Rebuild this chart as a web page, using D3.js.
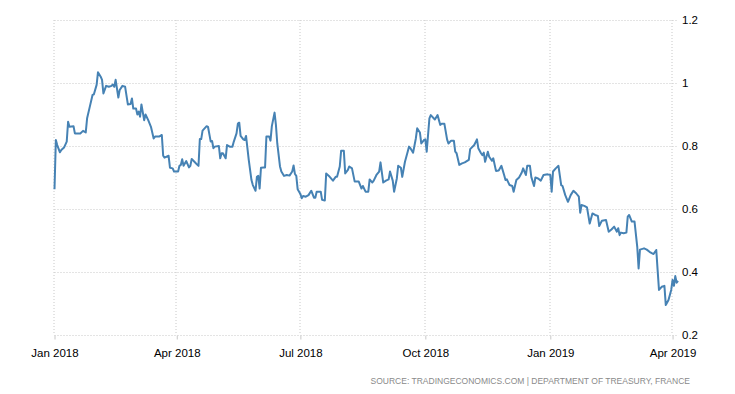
<!DOCTYPE html>
<html>
<head>
<meta charset="utf-8">
<script src="https://cdn.jsdelivr.net/npm/d3@7"></script>
<style>
  body { margin: 0; background: #fff; }
  svg { display: block; font-family: 'Liberation Sans', Arial, sans-serif; }
</style>
</head>
<body>
<svg id="chart" width="735" height="394"></svg>
<script>
// series dates and values (France 5Y bond yield, %)
var dates = [
  '2018-01-01','2018-01-02','2018-01-03','2018-01-05','2018-01-06','2018-01-08','2018-01-10','2018-01-11','2018-01-12','2018-01-15',
  '2018-01-16','2018-01-20','2018-01-22','2018-01-24','2018-01-25','2018-01-27','2018-01-29','2018-01-30','2018-02-01','2018-02-02',
  '2018-02-04','2018-02-05','2018-02-06','2018-02-08','2018-02-10','2018-02-12','2018-02-13','2018-02-14','2018-02-15','2018-02-17',
  '2018-02-18','2018-02-20','2018-02-22','2018-02-24','2018-02-26','2018-02-27','2018-02-28','2018-03-02','2018-03-03','2018-03-04',
  '2018-03-05','2018-03-06','2018-03-08','2018-03-09','2018-03-11','2018-03-13','2018-03-15','2018-03-16','2018-03-19','2018-03-21',
  '2018-03-22','2018-03-23','2018-03-26','2018-03-27','2018-03-29','2018-03-30','2018-04-02','2018-04-03','2018-04-04','2018-04-05',
  '2018-04-06','2018-04-08','2018-04-10','2018-04-11','2018-04-12','2018-04-14','2018-04-16','2018-04-17','2018-04-18','2018-04-19',
  '2018-04-20','2018-04-23','2018-04-24','2018-04-26','2018-04-27','2018-04-28','2018-04-29','2018-05-02','2018-05-03','2018-05-04',
  '2018-05-05','2018-05-07','2018-05-08','2018-05-10','2018-05-12','2018-05-13','2018-05-15','2018-05-16','2018-05-17','2018-05-18',
  '2018-05-20','2018-05-21','2018-05-22','2018-05-24','2018-05-26','2018-05-27','2018-05-29','2018-05-30','2018-05-31','2018-06-01',
  '2018-06-02','2018-06-04','2018-06-05','2018-06-06','2018-06-08','2018-06-09','2018-06-10','2018-06-12','2018-06-13','2018-06-14',
  '2018-06-16','2018-06-17','2018-06-19','2018-06-21','2018-06-23','2018-06-25','2018-06-26','2018-06-27','2018-06-28','2018-06-29',
  '2018-07-01','2018-07-02','2018-07-03','2018-07-05','2018-07-07','2018-07-09','2018-07-11','2018-07-12','2018-07-13','2018-07-16',
  '2018-07-17','2018-07-19','2018-07-20','2018-07-22','2018-07-25','2018-07-27','2018-07-28','2018-07-30','2018-07-31','2018-08-02',
  '2018-08-03','2018-08-05','2018-08-06','2018-08-08','2018-08-10','2018-08-13','2018-08-15','2018-08-16','2018-08-18','2018-08-20',
  '2018-08-21','2018-08-23','2018-08-24','2018-08-26','2018-08-28','2018-08-29','2018-08-31','2018-09-02','2018-09-04','2018-09-05',
  '2018-09-07','2018-09-08','2018-09-10','2018-09-11','2018-09-13','2018-09-14','2018-09-16','2018-09-18','2018-09-19','2018-09-20',
  '2018-09-22','2018-09-24','2018-09-25','2018-09-27','2018-09-28','2018-09-30','2018-10-01','2018-10-02','2018-10-04','2018-10-05',
  '2018-10-08','2018-10-10','2018-10-12','2018-10-13','2018-10-15','2018-10-17','2018-10-18','2018-10-20','2018-10-22','2018-10-23',
  '2018-10-24','2018-10-26','2018-10-28','2018-10-30','2018-11-02','2018-11-03','2018-11-06','2018-11-08','2018-11-09','2018-11-11',
  '2018-11-12','2018-11-13','2018-11-14','2018-11-16','2018-11-17','2018-11-19','2018-11-20','2018-11-22','2018-11-24','2018-11-26',
  '2018-11-28','2018-11-29','2018-11-30','2018-12-02','2018-12-04','2018-12-05','2018-12-07','2018-12-09','2018-12-11','2018-12-12',
  '2018-12-14','2018-12-15','2018-12-17','2018-12-18','2018-12-20','2018-12-21','2018-12-23','2018-12-25','2018-12-27','2018-12-30',
  '2019-01-01','2019-01-02','2019-01-03','2019-01-05','2019-01-07','2019-01-09','2019-01-10','2019-01-12','2019-01-14','2019-01-16',
  '2019-01-18','2019-01-20','2019-01-22','2019-01-23','2019-01-24','2019-01-26','2019-01-28','2019-01-30','2019-02-01','2019-02-03',
  '2019-02-05','2019-02-06','2019-02-08','2019-02-11','2019-02-13','2019-02-15','2019-02-17','2019-02-19','2019-02-20','2019-02-21',
  '2019-02-22','2019-02-24','2019-02-26','2019-02-27','2019-02-28','2019-03-02','2019-03-04','2019-03-06','2019-03-07','2019-03-08',
  '2019-03-11','2019-03-13','2019-03-15','2019-03-17','2019-03-18','2019-03-20','2019-03-21','2019-03-22','2019-03-24','2019-03-26',
  '2019-03-27','2019-03-29','2019-03-31','2019-04-01','2019-04-02','2019-04-03','2019-04-04','2019-04-05'
]
var values = [
  0.663,0.819,0.803,0.780,0.787,0.795,0.814,0.877,0.861,0.863,
  0.840,0.840,0.848,0.843,0.888,0.925,0.962,0.964,0.994,1.034,
  1.020,1.010,0.967,0.991,0.988,0.991,0.995,0.988,1.010,0.954,
  0.978,0.991,0.988,0.932,0.933,0.951,0.919,0.919,0.900,0.909,
  0.893,0.932,0.882,0.900,0.882,0.861,0.824,0.830,0.830,0.835,
  0.769,0.763,0.769,0.731,0.729,0.719,0.719,0.737,0.740,0.758,
  0.737,0.752,0.732,0.737,0.759,0.750,0.741,0.737,0.822,0.822,
  0.849,0.863,0.861,0.814,0.816,0.793,0.798,0.800,0.761,0.777,
  0.777,0.761,0.803,0.798,0.798,0.814,0.840,0.871,0.874,0.832,
  0.821,0.819,0.832,0.756,0.692,0.676,0.658,0.702,0.705,0.665,
  0.731,0.732,0.732,0.830,0.830,0.817,0.863,0.906,0.867,0.808,
  0.735,0.719,0.705,0.708,0.706,0.719,0.738,0.711,0.705,0.663,
  0.648,0.634,0.641,0.639,0.644,0.658,0.636,0.636,0.655,0.655,
  0.629,0.627,0.713,0.705,0.690,0.702,0.702,0.735,0.785,0.785,
  0.713,0.724,0.735,0.729,0.687,0.687,0.665,0.673,0.655,0.655,
  0.694,0.684,0.690,0.708,0.719,0.748,0.684,0.690,0.694,0.719,
  0.690,0.655,0.697,0.737,0.731,0.702,0.750,0.782,0.798,0.793,
  0.779,0.824,0.856,0.843,0.808,0.819,0.821,0.782,0.888,0.898,
  0.884,0.898,0.867,0.871,0.871,0.821,0.808,0.817,0.817,0.782,
  0.777,0.740,0.745,0.748,0.756,0.790,0.803,0.821,0.793,0.777,
  0.771,0.779,0.750,0.782,0.766,0.753,0.761,0.721,0.722,0.737,
  0.708,0.692,0.694,0.676,0.673,0.655,0.692,0.700,0.716,0.729,
  0.708,0.737,0.737,0.702,0.673,0.700,0.697,0.690,0.708,0.710,
  0.708,0.655,0.719,0.729,0.737,0.676,0.673,0.644,0.623,0.644,
  0.658,0.650,0.639,0.588,0.613,0.610,0.605,0.554,0.586,0.581,
  0.578,0.546,0.563,0.565,0.528,0.535,0.544,0.528,0.539,0.517,
  0.525,0.523,0.525,0.576,0.581,0.560,0.560,0.480,0.411,0.471,
  0.475,0.471,0.464,0.459,0.457,0.470,0.406,0.343,0.353,0.356,
  0.295,0.311,0.343,0.375,0.356,0.387,0.366,0.372
]
var yTicks = [0.2, 0.4, 0.6, 0.8, 1, 1.2]
var xTicks = ['2018-01-01', '2018-04-01', '2018-07-01', '2018-10-01', '2019-01-01', '2019-04-01']
var source = 'SOURCE: TRADINGECONOMICS.COM | DEPARTMENT OF TREASURY, FRANCE'

var parseTime = d3.timeParse('%Y-%m-%d')
var xFmt = d3.timeFormat('%b %Y')

var svg = d3.select('#chart')
var margin = {top: 20, right: 57, bottom: 59, left: 54.5}
var W = +svg.attr('width')
var H = +svg.attr('height')
var width = W - margin.left - margin.right
var height = H - margin.top - margin.bottom

var data = dates.map(function (d, i) {
  return {x: parseTime(d), y: values[i]}
})

var x = d3.scaleTime()
  .domain(d3.extent(data, function (d) { return d.x }))
  .range([0, width])
var y = d3.scaleLinear()
  .domain([0.2, 1.2])
  .range([height, 0])

var g = svg.append('g')
  .attr('transform', 'translate(' + margin.left + ',' + margin.top + ')')

// horizontal grid
g.append('g')
  .selectAll('line')
  .data(yTicks)
  .enter().append('line')
  .attr('x1', 0)
  .attr('x2', width)
  .attr('y1', function (d) { return Math.round(y(d)) + 0.5 })
  .attr('y2', function (d) { return Math.round(y(d)) + 0.5 })
  .attr('stroke', '#c8c8c8')
  .attr('stroke-dasharray', '1,2')

// vertical grid
var xt = xTicks.map(parseTime)
g.append('g')
  .selectAll('line')
  .data(xt)
  .enter().append('line')
  .attr('x1', function (d) { return Math.round(x(d)) - 0.5 })
  .attr('x2', function (d) { return Math.round(x(d)) - 0.5 })
  .attr('y1', 0)
  .attr('y2', height)
  .attr('stroke', '#c8c8c8')
  .attr('stroke-dasharray', '1,2')

// x axis
var xAxis = g.append('g')
  .attr('transform', 'translate(0,' + (Math.round(height) + 0.5) + ')')
  .call(d3.axisBottom(x)
    .tickValues(xt)
    .tickSize(4)
    .tickPadding(9)
    .tickFormat(xFmt))
xAxis.select('.domain').remove()
xAxis.selectAll('line').attr('stroke', '#c8c8c8')
xAxis.selectAll('text')
  .attr('fill', '#000')
  .style('font-size', '11.5px')

// y axis on the right
var yAxis = g.append('g')
  .attr('transform', 'translate(' + width + ',0)')
  .call(d3.axisRight(y)
    .tickValues(yTicks)
    .tickSize(0)
    .tickPadding(4)
    .tickFormat(d3.format('')))
yAxis.select('.domain').remove()
yAxis.selectAll('text')
  .attr('fill', '#000')
  .style('font-size', '11.5px')

// series line
var line = d3.line()
  .x(function (d) { return x(d.x) })
  .y(function (d) { return y(d.y) })

g.append('path')
  .datum(data)
  .attr('fill', 'none')
  .attr('stroke', '#4682b4')
  .attr('stroke-width', 2)
  .attr('stroke-linejoin', 'round')
  .attr('d', line)

// source note
svg.append('text')
  .attr('x', 690)
  .attr('y', 384)
  .attr('text-anchor', 'end')
  .attr('fill', '#8a8a8a')
  .style('font-size', '8.5px')
  .text(source)
</script>
</body>
</html>
